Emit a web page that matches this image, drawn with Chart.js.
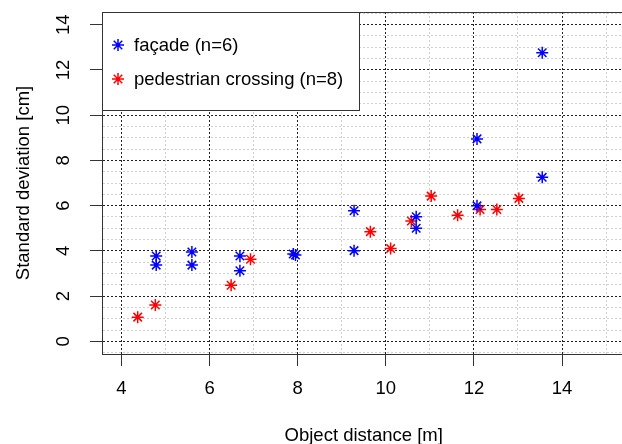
<!DOCTYPE html>
<html>
<head>
<meta charset="utf-8">
<script src="https://cdn.jsdelivr.net/npm/chart.js@4.4.0/dist/chart.umd.min.js"></script>
<style>
  html, body { margin: 0; padding: 0; background: #fff; }
  #wrap { width: 622px; height: 444px; overflow: hidden; }
</style>
</head>
<body>
<div id="wrap"><canvas id="chart" width="640" height="444"></canvas></div>
<script>
// data
const facadeX = [4.79, 4.79, 5.60, 5.60, 6.69, 6.69, 7.90, 7.95, 9.28, 9.28, 10.69, 10.69, 12.07, 12.07, 13.55, 13.55];
const facadeY = [3.77, 3.37, 3.95, 3.37, 3.77, 3.12, 3.86, 3.82, 5.77, 4.01, 5.51, 5.00, 8.95, 5.99, 12.76, 7.25];
const crossingX = [4.37, 4.77, 6.49, 6.93, 9.65, 10.11, 10.58, 11.03, 11.63, 12.14, 12.52, 13.02];
const crossingY = [1.07, 1.61, 2.48, 3.63, 4.85, 4.10, 5.32, 6.42, 5.57, 5.83, 5.83, 6.32];
const seriesLabels = ["façade (n=6)", "pedestrian crossing (n=8)"];
const seriesColors = ["#0000ff", "#ff0000"];

const FONT = "'Liberation Sans', Arial, Helvetica, sans-serif";
Chart.defaults.font.family = FONT;
Chart.defaults.font.size = 18.5;
Chart.defaults.color = "#000";

function toPoints(xs, ys) {
  return xs.map((x, i) => ({ x: x, y: ys[i] }));
}

function isMajor(ctx) {
  return ctx.tick && Math.abs(ctx.tick.value % 2) < 1e-6;
}

function drawStar(ctx, x, y, r, color) {
  ctx.save();
  ctx.strokeStyle = color;
  ctx.lineWidth = 1.5;
  ctx.beginPath();
  const d = r * Math.SQRT1_2;
  ctx.moveTo(x - r, y); ctx.lineTo(x + r, y);
  ctx.moveTo(x, y - r); ctx.lineTo(x, y + r);
  ctx.moveTo(x - d, y - d); ctx.lineTo(x + d, y + d);
  ctx.moveTo(x - d, y + d); ctx.lineTo(x + d, y - d);
  ctx.stroke();
  ctx.restore();
}

// R style legend box inside the plot, plus the top frame line
const boxLegend = {
  id: "boxLegend",
  afterDraw(chart) {
    const { ctx, chartArea } = chart;
    const x0 = chartArea.left, y0 = chartArea.top;
    ctx.save();
    ctx.strokeStyle = "#333";
    ctx.lineWidth = 1;
    ctx.beginPath();
    ctx.moveTo(x0, y0 + 0.5);
    ctx.lineTo(chartArea.right, y0 + 0.5);
    ctx.stroke();

    ctx.fillStyle = "#fff";
    ctx.fillRect(x0, y0, 257, 98);
    ctx.strokeRect(x0 + 0.5, y0 + 0.5, 257, 98);

    chart.data.datasets.forEach((ds, i) => {
      const cy = y0 + 33 + i * 34;
      drawStar(ctx, x0 + 16, cy, 6, ds.borderColor);
      ctx.fillStyle = "#000";
      ctx.font = "18.5px " + FONT;
      ctx.textBaseline = "middle";
      ctx.textAlign = "left";
      ctx.fillText(ds.label, x0 + 32, cy + 1);
    });
    ctx.restore();
  }
};

new Chart(document.getElementById("chart"), {
  type: "scatter",
  data: {
    datasets: [
      {
        label: seriesLabels[0],
        data: toPoints(facadeX, facadeY),
        borderColor: seriesColors[0],
        backgroundColor: seriesColors[0],
      },
      {
        label: seriesLabels[1],
        data: toPoints(crossingX, crossingY),
        borderColor: seriesColors[1],
        backgroundColor: seriesColors[1],
      },
    ],
  },
  options: {
    responsive: false,
    animation: false,
    layout: { padding: { left: 0, top: 12, right: 14.5, bottom: 0 } },
    elements: {
      point: { pointStyle: "star", radius: 6, borderWidth: 1.5, hoverRadius: 6 },
    },
    plugins: {
      legend: { display: false },
      tooltip: { enabled: false },
    },
    scales: {
      x: {
        type: "linear",
        min: 3.56,
        max: 15.44,
        afterFit: (s) => {
          s.height = 90;
          s.paddingLeft = 0;
          s.paddingRight = 0;
        },
        ticks: {
          stepSize: 1,
          includeBounds: false,
          autoSkip: false,
          maxRotation: 0,
          padding: 12,
          callback: (v) => (Math.abs(v % 2) < 1e-6 ? v : ""),
        },
        grid: {
          color: (c) => (isMajor(c) ? "#222" : "#cfcfcf"),
          tickColor: (c) => (isMajor(c) ? "#333" : "rgba(0,0,0,0)"),
          tickLength: 12,
          lineWidth: 1,
        },
        border: { color: "#333", width: 1, dash: (c) => (c.tick ? [2, 2] : []) },
        title: {
          display: true,
          text: "Object distance [m]",
          padding: { top: 0, bottom: -3 },
        },
      },
      y: {
        type: "linear",
        min: -0.56,
        max: 14.56,
        afterFit: (s) => {
          s.width = 102;
          s.paddingTop = 0;
          s.paddingBottom = 0;
        },
        ticks: {
          stepSize: 0.5,
          includeBounds: false,
          autoSkip: false,
          minRotation: 90,
          maxRotation: 90,
          crossAlign: "center",
          padding: 15.7,
          callback: (v) => (Math.abs(v % 2) < 1e-6 ? v : ""),
        },
        grid: {
          color: (c) => (isMajor(c) ? "#222" : "#cfcfcf"),
          tickColor: (c) => (isMajor(c) ? "#333" : "rgba(0,0,0,0)"),
          tickLength: 12,
          lineWidth: 1,
        },
        border: { color: "#333", width: 1, dash: (c) => (c.tick ? [2, 2] : []) },
        title: {
          display: true,
          text: "Standard deviation [cm]",
          padding: { top: 13, bottom: 0 },
        },
      },
    },
  },
  plugins: [boxLegend],
});
</script>
</body>
</html>
